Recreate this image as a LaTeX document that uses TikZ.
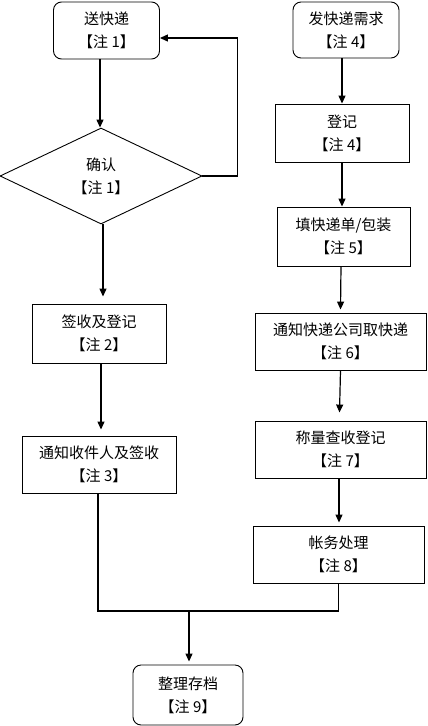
\documentclass[tikz,border=0pt]{standalone}
\usepackage{fontspec}
\newfontfamily\cjk{Noto Sans CJK SC}
\usetikzlibrary{shapes.geometric,arrows.meta}

\begin{document}
\begin{tikzpicture}[x=1pt,y=-1pt,
		stepbox/.style={rectangle,draw,line width=0.9pt,align=center,inner sep=0pt,
		font=\cjk\fontsize{15}{23}\selectfont},
		roundbox/.style={stepbox,rounded corners=8pt},
		checkbox/.style={diamond,draw,line width=0.9pt,align=center,inner sep=0pt,
		font=\cjk\fontsize{15}{23}\selectfont,minimum width=202pt,minimum height=96pt},
		flow/.style={line width=1.2pt,-{Triangle[length=8pt,width=7pt]}}
		]
		\useasboundingbox (0,0) rectangle (428,726);

		% left column
		\node[roundbox, minimum width=106pt, minimum height=57pt](S0) at (106.5,30.5){送快递\\【注 1】};
		\node[checkbox](S1) at (101,176){确认\\【注 1】};
		\node[stepbox, minimum width=134pt, minimum height=59pt](S2) at (99,333.5){签收及登记\\【注 2】};
		\node[stepbox, minimum width=154pt, minimum height=57pt](S3) at (99,464.5){通知收件人及签收\\【注 3】};
		\node[roundbox, minimum width=110pt, minimum height=60pt](S4) at (188,695){整理存档\\【注 9】};

		% right column
		\node[roundbox, minimum width=106pt, minimum height=56pt](R0) at (346,30){发快递需求\\【注 4】};
		\node[stepbox, minimum width=134pt, minimum height=58pt](R1) at (342,133){登记\\【注 4】};
		\node[stepbox, minimum width=133pt, minimum height=59pt](R2) at (343.5,236.5){填快递单/包装\\【注 5】};
		\node[stepbox, minimum width=171pt, minimum height=57pt](R3) at (340.5,341.5){通知快递公司取快递\\【注 6】};
		\node[stepbox, minimum width=171pt, minimum height=57pt](R4) at (340.5,449.5){称量查收登记\\【注 7】};
		\node[stepbox, minimum width=171pt, minimum height=57pt](R5) at (338.5,554.5){帐务处理\\【注 8】};
		\coordinate (M) at (189,611);

		\draw[flow] ([xshift=-6.5pt]S0.south) -- ([xshift=-1pt]S1.north);
		\draw[flow] (S1.east) -- ++(35,0) |- ([yshift=-7.5pt]S0.east);
		\draw[flow] ([xshift=2pt]S1.south) -- ([xshift=4pt,yshift=7pt]S2.north);
		\draw[flow] ([xshift=2pt]S2.south) -- ([xshift=2pt,yshift=6pt]S3.north);
		\draw[line width=1.2pt] ([xshift=-1pt]S3.south) |- (M) -| (R5.south);
		\draw[flow] (M) -- ([xshift=1pt,yshift=3pt]S4.north);

		\draw[flow] ([xshift=-4pt]R0.south) -- (R1.north);
		\draw[flow] (R1.south) -- ([xshift=-1.5pt]R2.north);
		\draw[flow] ([xshift=-2.5pt]R2.south) -- ([yshift=3pt]R3.north);
		\draw[flow] (R3.south) -- ([xshift=-1pt,yshift=8pt]R4.north);
		\draw[flow] ([xshift=-1.5pt]R4.south) -- ([xshift=0.5pt,yshift=3pt]R5.north);
	\end{tikzpicture}
\end{document}
